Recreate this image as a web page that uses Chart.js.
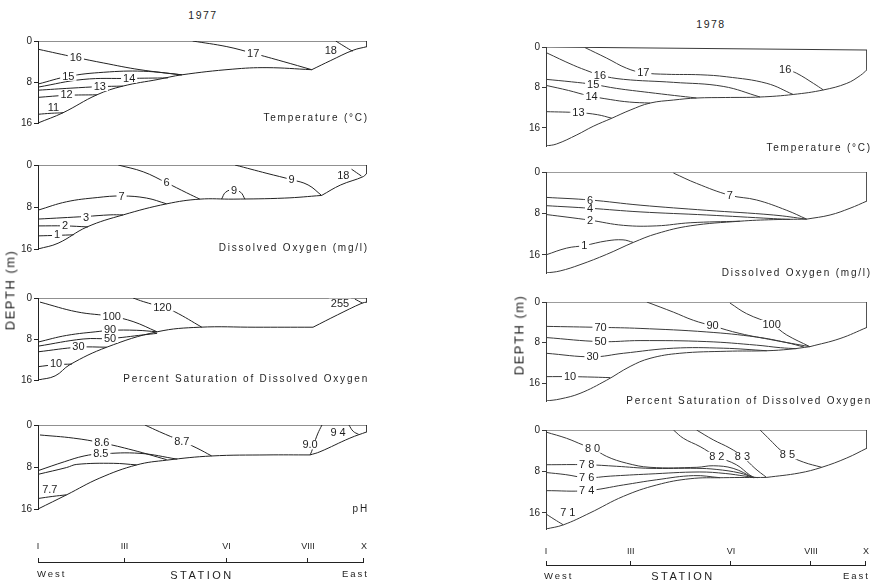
<!DOCTYPE html>
<html>
<head>
<meta charset="utf-8">
<script src="https://cdn.jsdelivr.net/npm/chart.js@4.4.1/dist/chart.umd.min.js"></script>
<style>
  body { margin: 0; width: 874px; height: 584px; background: #fff; position: relative; overflow: hidden;
         font-family: "Liberation Sans", Arial, sans-serif; color: #1e1e1e; }
  canvas { position: absolute; }
  .txt { position: absolute; white-space: nowrap; line-height: 1; }
</style>
</head>
<body>
<script>
// ---- data: x = distance along the lake (0 = station I, 100 = station X), y = depth in m ----
const stationPos = [0, 26.5, 57.8, 82.8, 100];
const stationLabels = ['I', 'III', 'VI', 'VIII', 'X'];
const depthTicks = [0, 8, 16];

// 1977 temperature
const temp77Bottom = [
    [[0, 16], [7.6, 14], [17.9, 10.5], [25.8, 8.8], [36.5, 7.5], [43.7, 6.6], [59, 5.5], [69.6, 5.2], [83.2, 5.6]],
    [[83.2, 5.6], [89, 3.8], [95.8, 1.8], [100, 1.1]]
];
const temp77Lines = [
    ['17', [[47, 0], [57.4, 1.1], [65.4, 2.4], [74.5, 4.0], [83.2, 5.6]], [65.4, 2.4]],
    ['18', [[90.5, 0], [93, 1.0], [95.6, 2.0]], [89, 1.9]],
    ['16', [[0, 1.6], [11.5, 3.2], [20, 4.3], [31, 5.6], [43.7, 6.6]], [11.5, 3.2]],
    ['15', [[0, 8.4], [9.2, 6.9], [20, 6.1], [32, 5.9], [43.7, 6.6]], [9.2, 6.9]],
    ['14', [[0, 9.0], [13.7, 7.5], [27.7, 7.3], [39.5, 7.2]], [27.7, 7.3]],
    ['13', [[0, 9.6], [10, 9.2], [18.8, 8.9], [25.8, 8.8]], [18.8, 8.9]],
    ['12', [[0, 11], [8.7, 10.6], [17.9, 10.5]], [8.7, 10.5]],
    ['11', [[0, 14.3], [4, 14.1], [7.6, 14]], [4.7, 13.0]]
];

// 1977 dissolved oxygen
const oxy77Bottom = [
    [[0, 16], [6.1, 14.9], [14.9, 11.8], [25.9, 9.5], [39.1, 7.4], [49.2, 6.5], [59.3, 6.5], [75, 6.3], [86.2, 5.8]],
    [[86.2, 5.8], [92, 3.8], [98.9, 2.2], [100, 1.5]]
];
const oxy77Lines = [
    ['6', [[24.4, 0], [32, 1.3], [39.1, 3.4], [45.2, 5.3], [49.2, 6.5]], [39.1, 3.4]],
    ['7', [[0, 8.6], [8.7, 7.0], [18, 6.2], [25.4, 5.9], [33, 6.3], [39.1, 7.4]], [25.4, 5.9]],
    ['9', [[55.8, 6.5], [57, 5.2], [59.3, 4.7], [61.6, 5.2], [62.9, 6.5]], [59.6, 4.8]],
    ['9', [[59.9, 0], [69.6, 1.6], [77.1, 2.8], [82.1, 3.8], [86.2, 5.8]], [77.1, 2.8]],
    ['18', [[95.3, 0.8], [98.3, 2.1]], [92.8, 1.9]],
    ['3', [[0, 10.3], [14.6, 9.8], [21.9, 9.5], [25.9, 9.5]], [14.6, 9.9]],
    ['2', [[0, 11.6], [8.2, 11.6], [15.2, 11.8]], [8.2, 11.6]],
    ['1', [[0, 13.5], [5.8, 13.4], [10.8, 13.3]], [5.8, 13.3]]
];

// 1977 percent saturation of dissolved oxygen
const sat77Bottom = [
    [[0, 16], [5.2, 15.2], [9.7, 13.0], [20.9, 9.6], [36.2, 6.6], [49.2, 5.7], [66, 5.7], [83.6, 5.7]],
    [[83.6, 5.7], [91, 3.3], [98.5, 1.0], [100, 0.8]]
];
const sat77Lines = [
    ['120', [[28.9, 0], [32, 0.7], [37.8, 1.8], [41.6, 2.7], [49.8, 5.7]], [37.8, 1.8]],
    ['255', [[96.3, 0.2], [98.6, 1.0]], [91.8, 1.0]],
    ['100', [[0.6, 0.8], [11.8, 2.7], [22.4, 3.6], [28.9, 4.6], [36.2, 6.6]], [22.4, 3.6]],
    ['90', [[0, 8.6], [8.7, 7.3], [18.8, 6.5], [21.9, 6.3], [30, 6.3], [36.2, 6.6]], [21.9, 6.2]],
    ['50', [[0, 9.4], [13.7, 8.0], [21.9, 7.9], [32, 7.2], [36.2, 6.9]], [21.9, 7.9]],
    ['30', [[0, 10.5], [12.3, 9.6], [20.9, 9.6]], [12.3, 9.5]],
    ['10', [[0, 13.4], [5.5, 13.0], [10.3, 12.9]], [5.5, 12.8]]
];

// 1977 pH
const ph77Bottom = [
    [[0, 16], [8.7, 13.3], [18.8, 10.1], [30, 7.6], [39.1, 6.7], [52.8, 5.9], [69.6, 5.7], [82.7, 5.7]],
    [[82.7, 5.7], [85.7, 5.1], [94.8, 2.5], [100, 1.3]]
];
const ph77Lines = [
    ['8.7', [[32.5, 0], [37, 1.3], [43.7, 3.1], [48.3, 4.4], [52.8, 5.9]], [43.7, 3.1]],
    ['8.6', [[0.6, 1.9], [10.8, 2.5], [19.4, 3.4], [28.9, 4.8], [39.1, 6.6]], [19.4, 3.4]],
    ['8.5', [[0, 8.7], [8, 7.0], [14, 5.9], [19.1, 5.5], [31, 5.4], [42.3, 6.5]], [19.1, 5.5]],
    ['', [[0, 9.4], [8.7, 8.1], [11.8, 7.5], [22.9, 7.3], [30, 7.6]], null],
    ['7.7', [[0, 14.0], [4.5, 13.6], [8.7, 13.3]], [3.6, 12.3]],
    ['9.0', [[86.3, 0], [85, 1.7], [83.8, 3.8], [83.2, 5.0], [82.7, 5.7]], [82.7, 3.8]],
    ['9 4', [[94.5, 0], [95.8, 1.2], [97.5, 1.8]], [91.2, 1.5]]
];

// 1978 temperature
const temp78Bottom = [
    [[0, 19.6], [3.3, 19.2], [9.6, 17.4], [14.7, 15.7], [20.5, 14.1], [26.2, 12.5], [32.4, 11.1], [39.7, 10.5],
     [46.9, 10.1], [56, 10.0], [66.7, 9.9], [77, 9.4], [86.4, 8.5], [93.7, 7.2], [98, 5.6], [100, 4.5]]
];
const temp78Surface = [[0, 0], [100, 0.6]];
const temp78Lines = [
    ['17', [[12.1, 0.1], [18.9, 2.2], [25.1, 4.2], [30.3, 5.1], [37.6, 5.4], [48, 5.5], [56.3, 5.9], [68.8, 7.2], [77, 9.4]], [30.3, 5.1]],
    ['16', [[0, 1.1], [8.5, 3.6], [13.7, 4.9], [16.8, 5.6], [24.1, 6.4], [39.7, 7.0], [55.2, 7.8], [66.7, 9.9]], [16.8, 5.6]],
    ['15', [[0, 6.4], [8, 6.9], [14.7, 7.4], [22, 8.2], [32, 9.0], [40, 9.6], [46.9, 10.1]], [14.7, 7.4]],
    ['14', [[0, 7.6], [7, 8.6], [13, 9.6], [20, 10.4], [26, 10.9], [32.4, 11.1]], [14.2, 9.8]],
    ['13', [[0, 12.8], [10.1, 13.0], [16, 13.4], [20.5, 14.1]], [10.1, 13.0]],
    ['16', [[75, 4.5], [78.1, 5.2], [83.3, 7.2], [86.4, 8.5]], [74.5, 4.4]]
];

// 1978 dissolved oxygen
const oxy78Bottom = [
    [[0, 19.5], [4.4, 19.1], [10.6, 17.9], [18.9, 15.9], [27.2, 13.6], [34.5, 11.9], [44.9, 10.4], [60.4, 9.5], [70.8, 9.2], [81.2, 9.1]],
    [[81.2, 9.1], [88.5, 8.3], [94.7, 7.0], [100, 5.6]]
];
const oxy78Lines = [
    ['7', [[39.7, 0.2], [46.9, 2.2], [57.3, 4.5], [65.6, 5.4], [75, 7.4], [81.2, 9.1]], [57.3, 4.5]],
    ['6', [[0, 4.9], [13.7, 5.4], [29.3, 6.4], [50.1, 7.4], [70.8, 8.3], [81.2, 9.1]], [13.7, 5.4]],
    ['4', [[0, 6.5], [13.7, 7.0], [29.3, 7.7], [50.1, 8.3], [70.8, 9.0], [76, 9.15]], [13.7, 7.1]],
    ['2', [[0, 8.2], [13.7, 9.3], [24.1, 10.3], [34.5, 10.4], [44.9, 9.8], [60.4, 9.5]], [13.7, 9.4]],
    ['1', [[0, 16.0], [6.4, 14.7], [11.9, 14.2], [18.9, 13.3], [24, 13.1], [27.2, 13.6]], [11.9, 14.2]]
];

// 1978 percent saturation of dissolved oxygen
const sat78Bottom = [
    [[0, 19.5], [4.4, 19.1], [10.6, 18.0], [18.9, 15.4], [26.2, 12.7], [32.4, 11.1], [41.7, 10.1], [56.3, 9.7], [68.8, 9.6], [76, 9.3], [82.2, 8.8]],
    [[82.2, 8.8], [91.6, 7.2], [100, 5.0]]
];
const sat78Lines = [
    ['90', [[31.4, 0], [39.7, 2.0], [45.9, 3.6], [51.9, 4.7], [60.4, 6.2], [70.8, 7.5], [82.2, 8.8]], [51.9, 4.7]],
    ['100', [[57.3, 0.2], [62.5, 2.3], [70.3, 4.4], [75, 6.5], [82.2, 8.8]], [70.3, 4.4]],
    ['70', [[0, 4.8], [17, 5.0], [29.3, 5.2], [50.1, 5.9], [65.6, 6.9], [75, 8.0], [80.5, 8.9]], [17, 5.0]],
    ['50', [[0, 7.0], [17, 7.8], [29.3, 7.6], [50.1, 7.8], [65.6, 8.5], [73, 9.0], [78, 9.2]], [17, 7.8]],
    ['30', [[0, 10.1], [14.5, 10.8], [24.1, 10.1], [39.7, 9.1], [55.2, 9.1], [68.8, 9.6]], [14.5, 10.8]],
    ['10', [[0, 14.7], [7.5, 14.7], [15, 14.8], [20, 14.9]], [7.5, 14.7]]
];

// 1978 pH
const ph78Bottom = [
    [[0, 19.1], [5.4, 18.3], [13.7, 16.0], [24.1, 12.8], [34.5, 10.6], [44.9, 9.4], [55.2, 9.2], [68.7, 9.15]],
    [[68.7, 9.15], [78.9, 8.3], [85.9, 7.2], [93.7, 5.4], [100, 3.5]]
];
const ph78Lines = [
    ['8 0', [[0, 0.4], [6.4, 1.6], [11.6, 2.9], [14.5, 3.5], [18.9, 5.1], [25.1, 6.4], [32.4, 7.2], [47, 7.2], [52.1, 6.9], [58.3, 7.4], [64.6, 9.2]], [14.5, 3.5]],
    ['7 8', [[0, 6.7], [12.7, 6.7], [22, 7.0], [32.4, 7.4], [47, 7.4], [53, 7.6], [60.4, 8.3], [64.6, 9.2]], [12.7, 6.7]],
    ['7 6', [[0, 8.2], [6, 8.6], [12.7, 9.2], [20, 8.9], [32, 8.5], [47.7, 8.1], [56, 8.4], [62, 8.9], [66, 9.2]], [12.7, 9.2]],
    ['7 4', [[0, 11.7], [12.7, 11.7], [24.1, 10.6], [34.5, 9.6], [46, 8.8], [54.2, 9.2]], [12.7, 11.7]],
    ['7 1', [[0, 16.2], [2.5, 17.2], [5.4, 18.3]], [6.8, 16.0]],
    ['8 2', [[39.7, 0], [42.8, 1.6], [48, 3.2], [53.2, 5.1], [59.3, 6.7], [63.5, 8.7], [65, 9.2]], [53.2, 5.1]],
    ['8 3', [[46.9, 0], [52.1, 1.9], [57.3, 3.5], [61.2, 5.1], [65.1, 7.4], [68.7, 9.15]], [61.2, 5.1]],
    ['8 5', [[66.7, 0], [69.8, 1.9], [72.9, 3.8], [75.2, 4.8], [80.2, 6.2], [85.9, 7.2]], [75.2, 4.8]]
];

const flatSurface = [[0, 0], [100, 0]];

// ---- layout ----
const FONT = '"Liberation Sans", Arial, sans-serif';
const AXIS_W = 30, PAD_T = 8, PAD_B = 8, PAD_R = 6;
Chart.defaults.font.family = FONT;
Chart.defaults.color = '#1e1e1e';

const panels = [
    { bottom: temp77Bottom, lines: temp77Lines, surface: flatSurface, left: 38, width: 329, top: 41, pxPerM: 5.125, ink: '#222' },
    { bottom: oxy77Bottom, lines: oxy77Lines, surface: flatSurface, left: 38, width: 329, top: 165, pxPerM: 5.25, ink: '#222' },
    { bottom: sat77Bottom, lines: sat77Lines, surface: flatSurface, left: 38, width: 329, top: 298, pxPerM: 5.125, ink: '#222' },
    { bottom: ph77Bottom, lines: ph77Lines, surface: flatSurface, left: 38, width: 329, top: 425, pxPerM: 5.25, ink: '#222' },
    { bottom: temp78Bottom, lines: temp78Lines, surface: temp78Surface, left: 546, width: 321, top: 47, pxPerM: 5.06, ink: '#3a3a3a' },
    { bottom: oxy78Bottom, lines: oxy78Lines, surface: flatSurface, left: 546, width: 321, top: 172, pxPerM: 5.2, ink: '#3a3a3a' },
    { bottom: sat78Bottom, lines: sat78Lines, surface: flatSurface, left: 546, width: 321, top: 302, pxPerM: 5.1, ink: '#3a3a3a' },
    { bottom: ph78Bottom, lines: ph78Lines, surface: flatSurface, left: 546, width: 321, top: 430, pxPerM: 5.2, ink: '#3a3a3a' }
];

const toPoints = arr => arr.map(p => ({ x: p[0], y: p[1] }));

// Draws the isoline value over its line, with a white patch so the line looks broken
const contourLabelPlugin = {
    id: 'contourLabels',
    afterDatasetsDraw(chart) {
        const { ctx, scales: { x, y } } = chart;
        ctx.save();
        ctx.font = '11px ' + FONT;
        ctx.textAlign = 'center';
        ctx.textBaseline = 'middle';
        chart.data.datasets.forEach(ds => {
            if (!ds.tag || !ds.tagAt) return;
            const px = x.getPixelForValue(ds.tagAt[0]);
            const py = y.getPixelForValue(ds.tagAt[1]);
            const w = ctx.measureText(ds.tag).width;
            ctx.fillStyle = '#fff';
            ctx.fillRect(px - w / 2 - 2, py - 4.5, w + 4, 9);
            ctx.fillStyle = '#1e1e1e';
            ctx.fillText(ds.tag, px, py + 0.5);
        });
        ctx.restore();
    }
};

function makeCanvas(left, top, w, h) {
    const cv = document.createElement('canvas');
    cv.width = w;
    cv.height = h;
    cv.style.left = left + 'px';
    cv.style.top = top + 'px';
    cv.style.width = w + 'px';
    cv.style.height = h + 'px';
    document.body.appendChild(cv);
    return cv;
}

function makePanel(p) {
    const yMax = p.bottom[0][0][1];
    const h = Math.round(yMax * p.pxPerM);
    const cv = makeCanvas(p.left - AXIS_W, p.top - PAD_T, AXIS_W + p.width + PAD_R, h + PAD_T + PAD_B);

    const lineStyle = { showLine: true, pointRadius: 0, borderWidth: 1, borderColor: p.ink, fill: false };
    const last = p.bottom[p.bottom.length - 1];
    const datasets = [
        { ...lineStyle, data: toPoints(p.surface), tension: 0 },
        { ...lineStyle, data: toPoints([p.surface[p.surface.length - 1], last[last.length - 1]]), tension: 0 }
    ];
    p.bottom.forEach(seg => datasets.push({ ...lineStyle, data: toPoints(seg), tension: 0.4 }));
    p.lines.forEach(l => datasets.push({ ...lineStyle, data: toPoints(l[1]), tension: 0.4, tag: l[0], tagAt: l[2] }));

    new Chart(cv, {
        type: 'scatter',
        data: { datasets },
        options: {
            responsive: false,
            animation: false,
            events: [],
            layout: { padding: { top: PAD_T, bottom: PAD_B, left: 0, right: PAD_R } },
            plugins: { legend: { display: false }, tooltip: { enabled: false } },
            scales: {
                x: { type: 'linear', min: 0, max: 100, display: false },
                y: {
                    type: 'linear', reverse: true, min: 0, max: yMax,
                    afterBuildTicks: s => { s.ticks = depthTicks.map(v => ({ value: v })); },
                    afterFit: s => { s.width = AXIS_W; },
                    ticks: { font: { size: 10 }, color: '#1e1e1e', padding: 2 },
                    grid: { drawOnChartArea: false, drawTicks: true, tickLength: 4, color: p.ink },
                    border: { display: true, color: p.ink, width: 1 }
                }
            }
        },
        plugins: [contourLabelPlugin]
    });
}

function makeStationAxis(left, width, lineY, labelGap) {
    const axisH = 26;
    const cv = makeCanvas(left - AXIS_W, lineY - axisH, AXIS_W + width + PAD_R, 40);
    new Chart(cv, {
        type: 'scatter',
        data: { datasets: [] },
        options: {
            responsive: false,
            animation: false,
            events: [],
            layout: { padding: { top: 0, bottom: 0, left: AXIS_W, right: PAD_R } },
            plugins: { legend: { display: false }, tooltip: { enabled: false } },
            scales: {
                x: {
                    type: 'linear', position: 'top', min: 0, max: 100,
                    afterBuildTicks: s => { s.ticks = stationPos.map(v => ({ value: v })); },
                    afterFit: s => { s.height = axisH; },
                    ticks: { autoSkip: false, maxRotation: 0, padding: labelGap, font: { size: 9 }, color: '#1e1e1e',
                             callback: (v, i) => stationLabels[i] },
                    grid: { drawOnChartArea: false, drawTicks: true, tickLength: 4, color: '#222' },
                    border: { display: true, color: '#222', width: 1 }
                },
                y: { display: false, min: 0, max: 1 }
            }
        }
    });
}

function addText(text, x, y, o = {}) {
    const d = document.createElement('div');
    d.className = 'txt';
    d.textContent = text;
    d.style.left = x + 'px';
    d.style.top = y + 'px';
    d.style.fontSize = (o.size || 10) + 'px';
    d.style.letterSpacing = (o.spacing || 0) + 'px';
    const tx = o.align === 'right' ? '-100%' : o.align === 'left' ? '0' : '-50%';
    d.style.transform = `translate(${tx}, -50%)` + (o.rotate ? ' rotate(-90deg)' : '');
    document.body.appendChild(d);
}

panels.forEach(makePanel);
makeStationAxis(38, 329, 562, 6);
makeStationAxis(546, 321, 565, 4);

// titles and captions
addText('1977', 203, 15, { size: 10.5, spacing: 1.5 });
addText('1978', 711, 24, { size: 10.5, spacing: 1.5 });
addText('DEPTH (m)', 10, 290, { size: 13, spacing: 1.5, rotate: true });
addText('DEPTH (m)', 519, 335, { size: 13, spacing: 1.5, rotate: true });

const capStyle = { size: 10, spacing: 1.8, align: 'right' };
addText('Temperature (°C)', 369, 118, capStyle);
addText('Dissolved Oxygen (mg/l)', 369, 248, capStyle);
addText('Percent Saturation of Dissolved Oxygen', 369, 379, capStyle);
addText('pH', 369, 509, capStyle);
addText('Temperature (°C)', 872, 148, capStyle);
addText('Dissolved Oxygen (mg/l)', 872, 273, capStyle);
addText('Percent Saturation of Dissolved Oxygen', 872, 401, capStyle);

addText('West', 37, 574, { size: 9.5, spacing: 2, align: 'left' });
addText('East', 369, 574, { size: 9.5, spacing: 2, align: 'right' });
addText('STATION', 202, 575, { size: 11, spacing: 2.5 });
addText('West', 544, 576, { size: 9.5, spacing: 2, align: 'left' });
addText('East', 870, 576, { size: 9.5, spacing: 2, align: 'right' });
addText('STATION', 683, 576, { size: 11, spacing: 2.5 });
</script>
</body>
</html>
